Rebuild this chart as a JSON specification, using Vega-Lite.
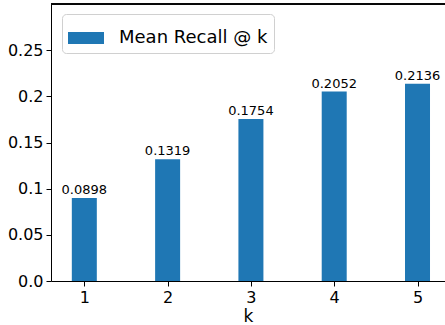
{
  "$schema": "https://vega.github.io/schema/vega-lite/v6.json",
  "width": 394,
  "height": 277,
  "autosize": {"type": "none"},
  "padding": {"left": 51, "top": 4, "right": 0, "bottom": 44},
  "background": "white",
  "config": {
    "view": {"stroke": null},
    "font": "DejaVu Sans",
    "axis": {"grid": false, "domainColor": "black", "tickColor": "black", "labelColor": "black", "titleColor": "black", "labelFont": "DejaVu Sans", "titleFont": "DejaVu Sans", "titleFontWeight": "normal", "tickSize": 5, "labelFontSize": 16, "titleFontSize": 17, "domainWidth": 1, "tickWidth": 1}
  },
  "data": {"values": [
    {"k": 1, "recall": 0.0898, "label": "0.0898", "series": "Mean Recall @ k"},
    {"k": 2, "recall": 0.1319, "label": "0.1319", "series": "Mean Recall @ k"},
    {"k": 3, "recall": 0.1754, "label": "0.1754", "series": "Mean Recall @ k"},
    {"k": 4, "recall": 0.2052, "label": "0.2052", "series": "Mean Recall @ k"},
    {"k": 5, "recall": 0.2136, "label": "0.2136", "series": "Mean Recall @ k"}
  ]},
  "layer": [
    {
      "mark": {"type": "bar", "size": 25},
      "encoding": {
        "x": {"field": "k", "type": "quantitative", "scale": {"domain": [0.6, 5.33], "nice": false, "zero": false, "padding": 0},
          "axis": {"values": [1, 2, 3, 4, 5], "format": "d", "title": "k", "labelPadding": 3, "titlePadding": 3}},
        "y": {"field": "recall", "type": "quantitative", "scale": {"domain": [0, 0.3], "nice": false},
          "axis": {"values": [0, 0.05, 0.1, 0.15, 0.2, 0.25], "title": null, "labelExpr": "datum.value === 0 ? '0.0' : format(datum.value, '~g')", "labelPadding": 3}},
        "color": {"field": "series", "type": "nominal", "scale": {"range": ["#1f77b4"]},
          "legend": {"title": null, "orient": "none", "legendX": 11, "legendY": 10, "symbolType": "M-1,-0.33H1V0.33H-1Z", "symbolSize": 1296, "symbolStrokeWidth": 0, "labelFontSize": 18, "labelFont": "DejaVu Sans", "labelColor": "black", "labelOffset": 15, "fillColor": "white", "strokeColor": "#d0d0d0", "cornerRadius": 4, "padding": 6, "symbolOpacity": 1}}
      }
    },
    {
      "mark": {"type": "text", "dy": -8, "fontSize": 13, "color": "black", "font": "DejaVu Sans"},
      "encoding": {
        "x": {"field": "k", "type": "quantitative"},
        "y": {"field": "recall", "type": "quantitative"},
        "text": {"field": "label"}
      }
    },
    {
      "mark": {"type": "rule", "color": "black", "strokeWidth": 1},
      "encoding": {"y": {"datum": 0.3}}
    }
  ]
}
